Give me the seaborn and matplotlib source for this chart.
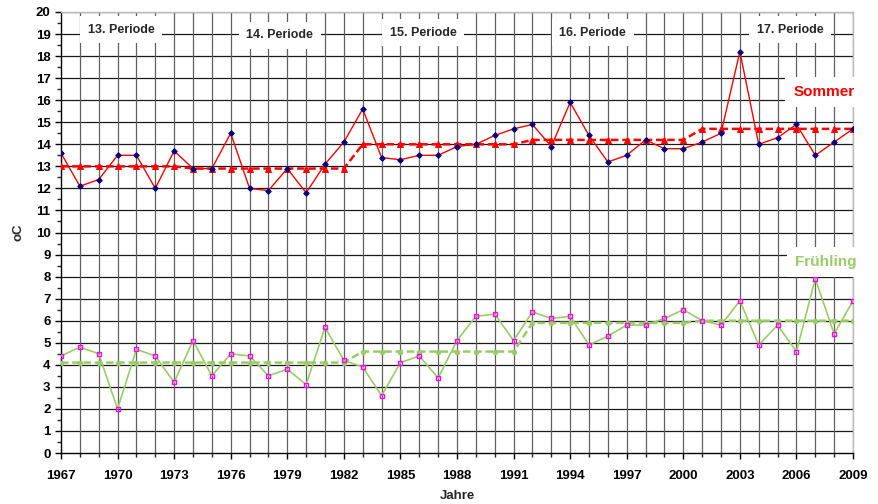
import numpy as np
import pandas as pd
import matplotlib
matplotlib.use("Agg")
import matplotlib.pyplot as plt
import seaborn as sns
from matplotlib.ticker import MultipleLocator

years = list(range(1967, 2010))
sommer = [13.6, 12.1, 12.4, 13.5, 13.5, 12.0, 13.7, 12.9, 12.9, 14.5,
          12.0, 11.9, 12.9, 11.8, 13.1, 14.1, 15.6, 13.4, 13.3, 13.5,
          13.5, 13.9, 14.0, 14.4, 14.7, 14.9, 13.9, 15.9, 14.4, 13.2,
          13.5, 14.2, 13.8, 13.8, 14.1, 14.5, 18.2, 14.0, 14.3, 14.9,
          13.5, 14.1, 14.7]
fruehling = [4.4, 4.8, 4.5, 2.0, 4.7, 4.4, 3.2, 5.1, 3.5, 4.5,
             4.4, 3.5, 3.8, 3.1, 5.7, 4.2, 3.9, 2.6, 4.1, 4.4,
             3.4, 5.1, 6.2, 6.3, 5.1, 6.4, 6.1, 6.2, 4.9, 5.3,
             5.8, 5.8, 6.1, 6.5, 6.0, 5.8, 6.9, 4.9, 5.8, 4.6,
             7.9, 5.4, 6.9]
# period means (13. to 17. Periode)
period_names = ["13. Periode", "14. Periode", "15. Periode", "16. Periode", "17. Periode"]
period_start = [1967, 1974, 1983, 1992, 2001]
period_end = [1973, 1982, 1991, 2000, 2009]
sommer_mean = [13.0, 12.9, 14.0, 14.2, 14.7]
fruehling_mean = [4.1, 4.1, 4.6, 5.9, 6.0]
xtick_years = list(range(1967, 2010, 3))

def expand(means):
    out = []
    for s, e, m in zip(period_start, period_end, means):
        out += [m] * (e - s + 1)
    return out

df = pd.DataFrame({"Jahr": years, "Sommer": sommer, "Fruehling": fruehling,
                   "SommerMittel": expand(sommer_mean),
                   "FruehlingMittel": expand(fruehling_mean)})

sns.set_style("white")
plt.rcParams['font.family'] = ['Liberation Sans', 'DejaVu Sans']

fig = plt.figure(figsize=(8.79, 5.04), dpi=100)
ax = fig.add_axes([61/879, 51/504, 792/879, 441/504])

red = "#FF0000"
green = "#99CC66"

sns.lineplot(data=df, x="Jahr", y="SommerMittel", ax=ax, color=red, lw=1.8,
             linestyle=(0, (3, 1.5)), marker="^", markersize=3.8,
             markeredgecolor=red, zorder=4)
sns.lineplot(data=df, x="Jahr", y="Sommer", ax=ax, color=red, lw=1.0,
             marker="D", markersize=2.8, markerfacecolor="#000080",
             markeredgecolor="#000080", zorder=5)
sns.lineplot(data=df, x="Jahr", y="FruehlingMittel", ax=ax, color=green, lw=1.8,
             linestyle=(0, (3, 1.5)), marker="o", markersize=3.2,
             markeredgecolor=green, zorder=4)
sns.lineplot(data=df, x="Jahr", y="Fruehling", ax=ax, color=green, lw=1.2,
             marker="s", markersize=3.2, markerfacecolor="none",
             markeredgecolor="#FF00FF", markeredgewidth=1, zorder=5)

ax.set_xlim(1967, 2009)
ax.set_ylim(0, 20)
ax.set_xticks(xtick_years)
ax.set_xticklabels([str(y) for y in xtick_years])
ax.xaxis.set_minor_locator(MultipleLocator(1))
ax.yaxis.set_major_locator(MultipleLocator(1))
ax.yaxis.set_minor_locator(MultipleLocator(0.5))

for y in range(1, 21):
    ax.axhline(y, color="#1A1A1A", lw=0.9, zorder=1)
for x in years[1:]:
    ax.axvline(x, color="#606060", lw=0.9, zorder=1)

ax.tick_params(axis="both", which="major", direction="out", length=4,
               width=1, labelsize=9.5, colors="black", left=True, bottom=True)
ax.tick_params(axis="x", which="major", pad=8)
ax.tick_params(axis="both", which="minor", direction="out", length=3,
               width=1, left=True, bottom=True)
for lab in ax.get_xticklabels() + ax.get_yticklabels():
    lab.set_fontweight("bold")

for side in ["left", "bottom"]:
    ax.spines[side].set_color("black")
    ax.spines[side].set_linewidth(1)
for side in ["top", "right"]:
    ax.spines[side].set_color("#BBBBBB")
    ax.spines[side].set_linewidth(1)

ax.set_xlabel("Jahre", fontsize=9.5, fontweight="bold", labelpad=6)
ax.set_ylabel("oC", fontsize=9.5, fontweight="bold", labelpad=8)

label_pos = [(1970.2, 19.2), (1978.6, 18.95), (1986.2, 19.05), (1995.2, 19.05), (2005.65, 19.2)]
for name, (px, py) in zip(period_names, label_pos):
    ax.text(px, py, name, ha="center", va="center", fontsize=9, fontweight="bold",
            bbox=dict(boxstyle="square,pad=0.6", facecolor="white", edgecolor="none"),
            zorder=6)

ax.text(2007.45, 16.37, "Sommer", ha="center", va="center", fontsize=11,
        fontweight="bold", color=red, clip_on=False,
        bbox=dict(facecolor="white", edgecolor="none", pad=6), zorder=6)
ax.text(2007.55, 8.66, "Frühling", ha="center", va="center", fontsize=11,
        fontweight="bold", color=green, clip_on=False,
        bbox=dict(facecolor="white", edgecolor="none", pad=6), zorder=6)

fig.savefig("out.png", dpi=100)
